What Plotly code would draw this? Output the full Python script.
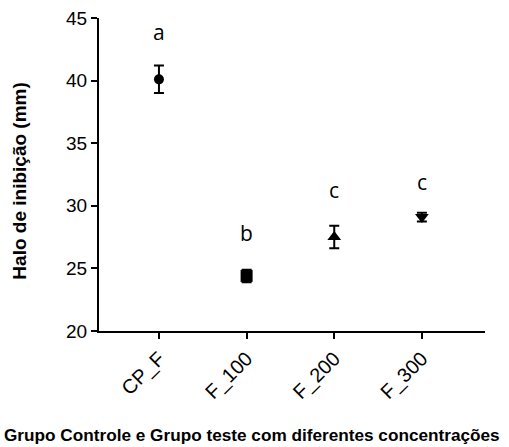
import plotly.graph_objects as go

categories = ["CP_F", "F_100", "F_200", "F_300"]
means = [40.1, 24.4, 27.5, 29.1]
errors = [1.1, 0.5, 0.9, 0.35]
letters = ["a", "b", "c", "c"]
letter_y = [43.9, 27.8, 31.3, 31.9]
symbols = ["circle", "square", "triangle-up", "triangle-down"]
sizes = [10, 12, 12, 12]

fig = go.Figure()
for i, cat in enumerate(categories):
    fig.add_trace(go.Scatter(
        x=[i], y=[means[i]], mode="markers",
        marker=dict(symbol=symbols[i], size=sizes[i], color="black"),
        error_y=dict(type="data", array=[errors[i]], visible=True,
                     color="black", thickness=2, width=5),
        showlegend=False,
    ))

for i, t in enumerate(letters):
    fig.add_annotation(x=i, y=letter_y[i], text=t, showarrow=False,
                       font=dict(family="Open Sans", size=21, color="black"))

# axis titles as paper annotations
fig.add_annotation(xref="paper", yref="paper", x=0.396, y=-0.332,
                   xanchor="center", yanchor="middle", showarrow=False,
                   text="<b>Grupo Controle e Grupo teste com diferentes concentrações</b>",
                   font=dict(size=17.2, family="Arial, Liberation Sans", color="black"))
fig.add_annotation(xref="paper", yref="paper", x=-0.205, y=0.48,
                   xanchor="center", yanchor="middle", showarrow=False, textangle=-90,
                   text="<b>Halo de inibição (mm)</b>",
                   font=dict(size=19, family="Arial, Liberation Sans", color="black"))

fig.update_layout(
    width=509, height=447,
    margin=dict(l=99, r=24, t=18, b=116),
    plot_bgcolor="white", paper_bgcolor="white",
    font=dict(family="Arial, Liberation Sans", color="black"),
)
fig.update_xaxes(
    automargin=False,
    range=[-0.684, 3.72], tickmode="array", tickvals=list(range(4)),
    ticktext=categories, tickangle=-45,
    tickfont=dict(size=20, family="Arial, Liberation Sans", color="black"),
    showline=True, linecolor="black", linewidth=2,
    ticks="outside", ticklen=6, tickwidth=2, tickcolor="black",
    showgrid=False, zeroline=False,
)
fig.update_yaxes(
    automargin=False,
    range=[20, 45], tickvals=[20, 25, 30, 35, 40, 45],
    tickfont=dict(size=19, family="Arial, Liberation Sans", color="black"),
    showline=True, linecolor="black", linewidth=2,
    ticks="outside", ticklen=6, tickwidth=2, tickcolor="black",
    showgrid=False, zeroline=False,
)

fig.write_html("out.html", config={"displayModeBar": False},
               post_script="document.body.style.margin='0';")
